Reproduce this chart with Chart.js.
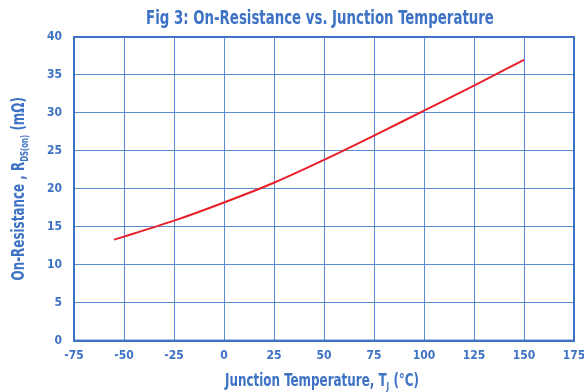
<!DOCTYPE html>
<html>
<head>
<meta charset="utf-8">
<script src="https://cdn.jsdelivr.net/npm/chart.js@4/dist/chart.umd.min.js"></script>
<style>
  html, body { margin: 0; padding: 0; background: #fff; }
  #wrap { width: 584px; height: 392px; }
</style>
</head>
<body>
<div id="wrap"><canvas id="rdsChart" width="584" height="392"></canvas></div>
<script>
// Data
const tempC = [-55, -50, -25, 0, 25, 50, 75, 100, 125, 150];
const rdsOn = [13.3, 13.7, 15.8, 18.2, 20.8, 23.8, 27.0, 30.3, 33.6, 37.0];
const xTicks = [-75, -50, -25, 0, 25, 50, 75, 100, 125, 150, 175];
const yTicks = [0, 5, 10, 15, 20, 25, 30, 35, 40];
const chartTitle = 'Fig 3: On-Resistance vs. Junction Temperature';

const BLUE = '#3d72c4';
const GRID = '#5b8bd3';
const FONT = '"DejaVu Sans Condensed", "Liberation Sans Narrow", "Roboto", sans-serif';
const SQUEEZE = 0.78; // fake a condensed face for the titles

// frame around the plot + titles (with subscripts)
const framePlugin = {
  id: 'frame',
  afterDraw(chart) {
    const { ctx, chartArea: a } = chart;
    ctx.save();
    ctx.strokeStyle = BLUE;
    ctx.lineWidth = 2;
    ctx.strokeRect(a.left, a.top, a.right - a.left, a.bottom - a.top);

    ctx.fillStyle = BLUE;
    ctx.textBaseline = 'alphabetic';
    const mid = (a.left + a.right) / 2;

    drawParts(ctx, [[chartTitle, 19, 0]], mid - 4, 24);
    drawParts(ctx, [['Junction Temperature, T', 17, 0], ['J', 10, 4], [' (°C)', 17, 0]], mid - 2, 386);

    ctx.translate(24, (a.top + a.bottom) / 2);
    ctx.rotate(-Math.PI / 2);
    drawParts(ctx, [['On-Resistance , R', 17, 0], ['DS(on)', 10, 4], [' (mΩ)', 17, 0]], 0, 0);
    ctx.restore();
  }
};

function drawParts(ctx, parts, cx, baseY) {
  ctx.save();
  ctx.translate(cx, baseY);
  ctx.scale(SQUEEZE, 1);
  let total = 0;
  parts.forEach(([t, s]) => {
    ctx.font = 'bold ' + s + 'px ' + FONT;
    total += ctx.measureText(t).width;
  });
  let x = -total / 2;
  parts.forEach(([t, s, dy]) => {
    ctx.font = 'bold ' + s + 'px ' + FONT;
    ctx.textAlign = 'left';
    ctx.fillText(t, x, dy);
    x += ctx.measureText(t).width;
  });
  ctx.restore();
}

const ctx = document.getElementById('rdsChart').getContext('2d');
new Chart(ctx, {
  type: 'line',
  data: {
    datasets: [{
      data: tempC.map((t, i) => ({ x: t, y: rdsOn[i] })),
      borderColor: '#e8202a',
      borderWidth: 2,
      pointRadius: 0,
      fill: false,
      cubicInterpolationMode: 'monotone'
    }]
  },
  options: {
    responsive: false,
    animation: false,
    layout: { padding: { left: 35, right: 10, top: 37, bottom: 21 } },
    plugins: {
      legend: { display: false },
      tooltip: { enabled: false },
      title: { display: false }
    },
    scales: {
      x: {
        type: 'linear',
        min: -75,
        max: 175,
        afterBuildTicks: (axis) => { axis.ticks = xTicks.map(v => ({ value: v })); },
        afterFit: (axis) => { axis.paddingRight = 0; axis.paddingLeft = 0; },
        ticks: { color: BLUE, font: { family: FONT, size: 12, weight: 'bold' }, padding: 8 },
        grid: { color: GRID, lineWidth: 1, tickLength: 0 },
        border: { color: BLUE, width: 2 }
      },
      y: {
        min: 0,
        max: 40,
        afterBuildTicks: (axis) => { axis.ticks = yTicks.map(v => ({ value: v })); },
        afterFit: (axis) => { axis.paddingTop = 0; axis.paddingBottom = 0; },
        ticks: { color: BLUE, font: { family: FONT, size: 12, weight: 'bold' }, padding: 12 },
        grid: { color: GRID, lineWidth: 1, tickLength: 0 },
        border: { color: BLUE, width: 2 }
      }
    }
  },
  plugins: [framePlugin]
});
</script>
</body>
</html>
